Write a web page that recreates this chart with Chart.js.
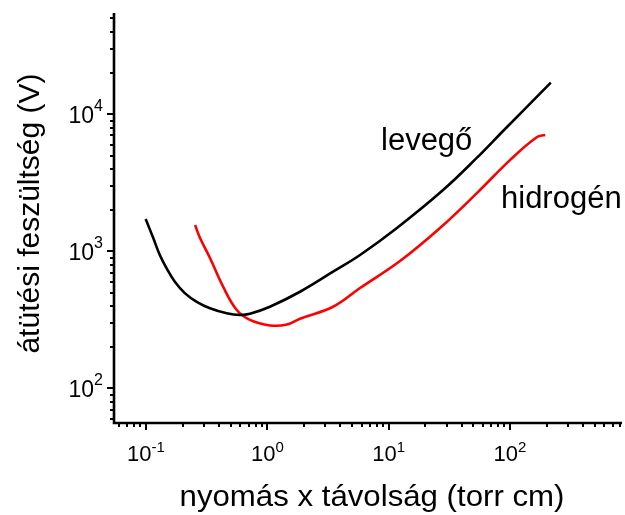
<!DOCTYPE html>
<html>
<head>
<meta charset="utf-8">
<script src="https://cdn.jsdelivr.net/npm/chart.js@4.4.0/dist/chart.umd.min.js"></script>
<style>
  html, body { margin: 0; padding: 0; background: #fff; }
  #wrap { width: 625px; height: 515px; position: relative; }
</style>
</head>
<body>
<div id="wrap"><canvas id="c"></canvas></div>
<script>
// ---- data ----
const airX = [0.0994, 0.115, 0.130, 0.148, 0.173, 0.210, 0.262, 0.337, 0.463, 0.595, 0.719, 1.05, 1.86, 3.48, 5.81, 11.7, 28.1, 53.2, 87.7, 217];
const airY = [1722, 1244, 940, 751, 600, 493, 428, 384, 353, 343, 350, 394, 507, 710, 940, 1480, 2800, 4800, 7550, 17000];
const h2X  = [0.254, 0.279, 0.337, 0.432, 0.56, 0.719, 1.05, 1.45, 1.86, 3.48, 5.81, 12.4, 26.5, 53.6, 100, 166, 195];
const h2Y  = [1556, 1250, 894, 552, 373, 316, 288, 292, 322, 394, 540, 849, 1480, 2670, 4630, 6790, 7060];
const seriesLabels = ['levegő', 'hidrogén'];
const xTitle = 'nyomás x távolság (torr cm)';
const yTitle = 'átütési feszültség (V)';
const xDecades = [-1, 0, 1, 2];
const yDecades = [2, 3, 4];
const xRange = [0.0545, 838];
const yRange = [55.9, 54800];

const toPts = (xs, ys) => xs.map((x, i) => ({x, y: ys[i]}));
const FONT = '"Liberation Sans", Arial, sans-serif';

const overlay = {
  id: 'overlay',
  afterDraw(chart) {
    const {ctx, chartArea: a, scales: {x, y}} = chart;
    ctx.save();
    ctx.strokeStyle = '#000';
    ctx.fillStyle = '#000';
    // axes lines
    ctx.lineWidth = 2.6;
    ctx.beginPath();
    ctx.moveTo(a.left, a.top);
    ctx.lineTo(a.left, a.bottom);
    ctx.lineTo(a.right, a.bottom);
    ctx.stroke();
    // ticks
    ctx.lineWidth = 2;
    for (let d = -3; d <= 4; d++) {
      for (let k = 1; k <= 9; k++) {
        const v = k * Math.pow(10, d);
        const len = k === 1 ? 7 : 4;
        if (v >= xRange[0] && v <= xRange[1]) {
          const px = Math.round(x.getPixelForValue(v));
          ctx.beginPath(); ctx.moveTo(px, a.bottom); ctx.lineTo(px, a.bottom + len); ctx.stroke();
        }
        if (v >= yRange[0] && v <= yRange[1]) {
          const py = Math.round(y.getPixelForValue(v));
          ctx.beginPath(); ctx.moveTo(a.left, py); ctx.lineTo(a.left - len, py); ctx.stroke();
        }
      }
    }
    // tick labels with superscripts
    const base = '22px ' + FONT, sup = '15px ' + FONT;
    ctx.textBaseline = 'alphabetic';
    ctx.textAlign = 'left';
    const measure = (e) => {
      ctx.font = base; const w1 = ctx.measureText('10').width;
      ctx.font = sup; const w2 = ctx.measureText(String(e)).width;
      return [w1, w2];
    };
    xDecades.forEach(e => {
      const px = x.getPixelForValue(Math.pow(10, e));
      const [w1, w2] = measure(e);
      const left = px - (w1 + w2) / 2;
      ctx.font = base; ctx.fillText('10', left, 461);
      ctx.font = sup; ctx.fillText(String(e), left + w1, 452);
    });
    yDecades.forEach(e => {
      const py = y.getPixelForValue(Math.pow(10, e));
      ctx.font = '23px ' + FONT; const w1 = ctx.measureText('10').width;
      ctx.font = '16px ' + FONT; const w2 = ctx.measureText(String(e)).width;
      const right = 103;
      ctx.font = '23px ' + FONT; ctx.fillText('10', right - w1 - w2, py + 8.5);
      ctx.font = '16px ' + FONT; ctx.fillText(String(e), right - w2, py - 3);
    });
    // axis titles
    ctx.textAlign = 'center';
    ctx.save();
    ctx.translate(372, 506);
    ctx.scale(1.04, 1);
    ctx.font = '30px ' + FONT;
    ctx.fillText(xTitle, 0, 0);
    ctx.restore();
    ctx.save();
    ctx.translate(38.5, 213.5);
    ctx.rotate(-Math.PI / 2);
    ctx.font = '30px ' + FONT;
    ctx.fillText(yTitle, 0, 0);
    ctx.restore();
    // curve labels
    ctx.textAlign = 'left';
    ctx.font = '31px ' + FONT;
    ctx.fillText(seriesLabels[0], 381, 150);
    ctx.fillText(seriesLabels[1], 501, 208);
    ctx.restore();
  }
};

new Chart(document.getElementById('c'), {
  type: 'line',
  data: {
    datasets: [
      { label: seriesLabels[0], data: toPts(airX, airY), borderColor: '#000000', borderWidth: 2.6, pointRadius: 0, tension: 0.4, fill: false },
      { label: seriesLabels[1], data: toPts(h2X, h2Y), borderColor: '#ff0000', borderWidth: 2.6, pointRadius: 0, tension: 0.4, fill: false }
    ]
  },
  options: {
    responsive: true,
    maintainAspectRatio: false,
    animation: false,
    events: [],
    layout: { padding: { left: 0, right: 3, top: 13, bottom: 0 } },
    plugins: { legend: { display: false }, tooltip: { enabled: false } },
    scales: {
      x: {
        type: 'logarithmic', min: xRange[0], max: xRange[1],
        grid: { display: false }, border: { display: false },
        ticks: { display: false },
        afterFit(s) { s.height = 92; }
      },
      y: {
        type: 'logarithmic', min: yRange[0], max: yRange[1],
        grid: { display: false }, border: { display: false },
        ticks: { display: false },
        afterFit(s) { s.width = 114; }
      }
    }
  },
  plugins: [overlay]
});
</script>
</body>
</html>
